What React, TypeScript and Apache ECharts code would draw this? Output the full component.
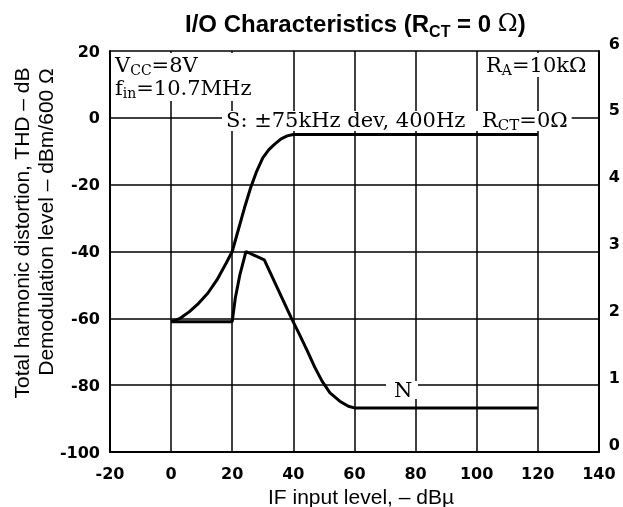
import React, { useEffect, useRef } from "react";
import * as echarts from "echarts";

// IF input level (dBµ) and level (dB)
const S_X = [0, 3, 6, 9, 12, 15, 18, 20, 22, 24, 26, 28, 30, 32, 34, 36, 38, 40, 120];
const S_Y = [-61, -60, -58, -55.5, -52.5, -48.5, -43.5, -40, -33.5, -27, -21, -16, -12, -9.5, -7.8, -6.3, -5.4, -5, -5];
const N_X = [0, 20, 21, 22.5, 24.5, 30.5, 39.4, 42, 44.5, 47, 49.4, 52, 55.2, 58, 60, 120];
const N_Y = [-61, -61, -54, -47, -40, -42.5, -60, -64.8, -69.6, -74.6, -78.8, -82.3, -84.8, -86.3, -86.8, -86.8];

const TITLE = ["I/O Characteristics (R", "CT", " = 0 ", "Ω", ")"];
const Y_NAME_1 = "Total harmonic distortion, THD – dB";
const Y_NAME_2 = "Demodulation level – dBm/600 Ω";
const X_NAME = "IF input level, – dBµ";
const SERIF = "DejaVu Serif";
const SANS = "Liberation Sans";

const measureCtx = typeof document !== "undefined" ? document.createElement("canvas").getContext("2d") : null;
function textWidth(t: string, size: number, family: string, weight: string) {
  if (!measureCtx) return t.length * size * 0.55;
  measureCtx.font = `${weight} ${size}px "${family}"`;
  return measureCtx.measureText(t).width;
}

type Part = { t: string; size: number; family: string; weight?: string; dy?: number };
function run(x: number, y: number, parts: Part[], z = 6) {
  const els: any[] = [];
  let cx = x;
  for (const p of parts) {
    const weight = p.weight || "normal";
    els.push({
      type: "text",
      x: cx,
      y: y + (p.dy || 0),
      z,
      style: {
        text: p.t,
        fontSize: p.size,
        fontFamily: p.family,
        fontWeight: weight,
        fill: "#000",
        textAlign: "left",
        textVerticalAlign: "middle",
        verticalAlign: "middle",
      },
    });
    cx += textWidth(p.t, p.size, p.family, weight);
  }
  return { els, end: cx };
}

function box(x: number, y: number, w: number, h: number) {
  return { type: "rect", z: 5, shape: { x, y, width: w, height: h }, style: { fill: "#fff" } };
}

export default function App() {
  const ref = useRef<HTMLDivElement>(null);
  useEffect(() => {
    if (!ref.current) return;
    const chart = echarts.init(ref.current, undefined, { renderer: "svg" });

    const M = 21; // annotation font size
    const SUB = 14;
    const title = run(185, 23, [
      { t: TITLE[0], size: 24, family: SANS, weight: "bold" },
      { t: TITLE[1], size: 16, family: SANS, weight: "bold", dy: 8 },
      { t: TITLE[2], size: 24, family: SANS, weight: "bold" },
      { t: TITLE[3], size: 24, family: SERIF },
      { t: TITLE[4], size: 24, family: SANS, weight: "bold" },
    ]);
    const vcc = run(115, 65, [
      { t: "V", size: M, family: SERIF },
      { t: "CC", size: SUB, family: SERIF, dy: 5 },
      { t: "=8V", size: M, family: SERIF },
    ]);
    const fin = run(115, 88, [
      { t: "f", size: M, family: SERIF },
      { t: "in", size: SUB, family: SERIF, dy: 5 },
      { t: "=10.7MHz", size: M, family: SERIF },
    ]);
    const ra = run(486, 65, [
      { t: "R", size: M, family: SERIF },
      { t: "A", size: SUB, family: SERIF, dy: 5 },
      { t: "=10kΩ", size: M, family: SERIF },
    ]);
    const s = run(226, 120, [{ t: "S: ±75kHz dev, 400Hz", size: M, family: SERIF }]);
    const rct = run(482, 120, [
      { t: "R", size: M, family: SERIF },
      { t: "CT", size: 15, family: SERIF, dy: 5 },
      { t: "=0Ω", size: M, family: SERIF },
    ]);
    const nLabel = run(394, 390, [{ t: "N", size: M, family: SERIF }]);

    const graphic: any[] = [
      box(113, 53, Math.max(vcc.end, fin.end) - 113 + 4, 48),
      box(480, 53, ra.end - 480 + 4, 24),
      box(222, 111, rct.end - 222 + 4, 20),
      box(386, 381, 32, 18),
      ...title.els,
      ...vcc.els,
      ...fin.els,
      ...ra.els,
      ...s.els,
      ...rct.els,
      ...nLabel.els,
      {
        type: "text",
        x: 21,
        y: 233,
        rotation: Math.PI / 2,
        z: 6,
        style: { text: Y_NAME_1, fontSize: 21, fontFamily: SANS, fill: "#000", textAlign: "center", textVerticalAlign: "middle", verticalAlign: "middle" },
      },
      {
        type: "text",
        x: 45,
        y: 222,
        rotation: Math.PI / 2,
        z: 6,
        style: { text: Y_NAME_2, fontSize: 21, fontFamily: SANS, fill: "#000", textAlign: "center", textVerticalAlign: "middle", verticalAlign: "middle" },
      },
      {
        type: "text",
        x: 361,
        y: 496,
        z: 6,
        style: { text: X_NAME, fontSize: 21, fontFamily: SANS, fill: "#000", textAlign: "center", textVerticalAlign: "middle", verticalAlign: "middle" },
      },
    ];

    const tickLabel = { color: "#000", fontFamily: "DejaVu Sans", fontWeight: "bold", fontSize: 16 };
    const line = { color: "#000", width: 2 };
    const split = { show: true, lineStyle: { color: "#000", width: 1.5 } };

    chart.setOption({
      animation: false,
      grid: { left: 110, right: 17, top: 51, bottom: 55 },
      xAxis: {
        type: "value",
        min: -20,
        max: 140,
        interval: 20,
        axisLine: { show: true, onZero: false, lineStyle: line },
        axisTick: { show: false },
        axisLabel: { ...tickLabel, margin: 13 },
        splitLine: split,
      },
      yAxis: [
        {
          type: "value",
          min: -100,
          max: 20,
          interval: 20,
          position: "left",
          axisLine: { show: true, onZero: false, lineStyle: line },
          axisTick: { show: false },
          axisLabel: { ...tickLabel, margin: 10 },
          splitLine: split,
        },
        {
          type: "value",
          min: 0,
          max: 6,
          interval: 1,
          position: "right",
          axisLine: { show: true, onZero: false, lineStyle: line },
          axisTick: { show: false },
          axisLabel: { ...tickLabel, margin: 10, verticalAlign: "bottom" },
          splitLine: { show: false },
        },
      ],
      graphic,
      series: [
        {
          type: "line",
          name: "S",
          data: S_X.map((x, i) => [x, S_Y[i]]),
          symbol: "none",
          lineStyle: { color: "#000", width: 3 },
          z: 10,
        },
        {
          type: "line",
          name: "N",
          data: N_X.map((x, i) => [x, N_Y[i]]),
          symbol: "none",
          lineStyle: { color: "#000", width: 3 },
          z: 10,
        },
      ],
    });
    return () => chart.dispose();
  }, []);
  return <div ref={ref} style={{ position: "fixed", left: 0, top: 0, width: 623, height: 507 }} />;
}
